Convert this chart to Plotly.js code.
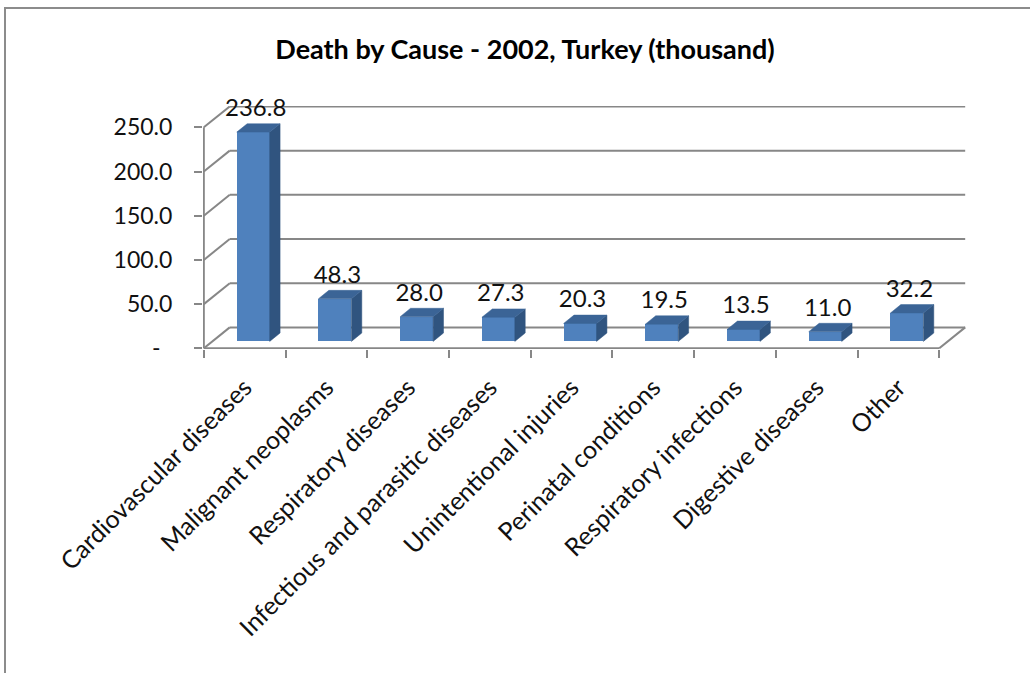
<!DOCTYPE html>
<html>
<head>
<meta charset="utf-8">
<script src="https://cdn.plot.ly/plotly-3.0.1.min.js"></script>
<style>html,body{margin:0;padding:0;background:#fff;}#chart{width:1030px;height:673px;}</style>
</head>
<body>
<div id="chart"></div>
<script>
// ---- data ----
const categories = ["Cardiovascular diseases", "Malignant neoplasms", "Respiratory diseases",
  "Infectious and parasitic diseases", "Unintentional injuries", "Perinatal conditions",
  "Respiratory infections", "Digestive diseases", "Other"];
const values = [236.8, 48.3, 28.0, 27.3, 20.3, 19.5, 13.5, 11.0, 32.2];
const yTickVals = [0, 50, 100, 150, 200, 250];
const yTickText = ["-\u00a0\u00a0", "50.0", "100.0", "150.0", "200.0", "250.0"];
const titleText = "Death by Cause - 2002, Turkey (thousand)";

// ---- pseudo-3D geometry (in axis units) ----
const DX = 0.3175, DY = 23.65;   // full depth offset of the back wall
const F0 = 0.33, F1 = 0.73;      // bar front / back depth fractions
const BW = 0.403;                // bar width
const idx = categories.map((c, i) => i);
const base = F0 * DY;
const sx = F0 * DX;
const dDX = (F1 - F0) * DX, dDY = (F1 - F0) * DY;

const topX = [], topY = [], sideX = [], sideY = [];
idx.forEach(i => {
  const xl = i - BW / 2 + sx, xr = i + BW / 2 + sx;
  const t = base + values[i];
  topX.push(xl, xr, xr + dDX, xl + dDX, xl, null);
  topY.push(t, t, t + dDY, t + dDY, t, null);
  sideX.push(xr, xr, xr + dDX, xr + dDX, xr, null);
  sideY.push(base, t, t + dDY, base + dDY, base, null);
});

const FONT = 'Lato, sans-serif';
const traces = [
  { type: 'bar', x: idx, y: values, base: idx.map(() => base), width: BW, offset: -BW / 2 + sx,
    marker: { color: '#4F81BD', line: { width: 0 } }, hoverinfo: 'skip', showlegend: false },
  { type: 'scatter', mode: 'lines', x: sideX, y: sideY, fill: 'toself', fillcolor: '#30547F',
    line: { width: 0.5, color: '#30547F' }, hoverinfo: 'skip', showlegend: false },
  { type: 'scatter', mode: 'lines', x: topX, y: topY, fill: 'toself', fillcolor: '#3B6496',
    line: { width: 0.5, color: '#3B6496' }, hoverinfo: 'skip', showlegend: false },
  { type: 'scatter', mode: 'text', x: idx.map(i => i + sx + 0.03), y: values.map(v => base + v + dDY + 2),
    text: values.map(v => v.toFixed(1)), textposition: 'top center', cliponaxis: false,
    textfont: { family: FONT, size: 24, color: '#111' }, hoverinfo: 'skip', showlegend: false }
];

// ---- frame lines ----
const gridColor = '#878787';
const shapes = [];
function ln(x0, y0, x1, y1, w) {
  shapes.push({ type: 'line', xref: 'x', yref: 'y', x0, y0, x1, y1, layer: 'below',
    line: { color: gridColor, width: w || 2 } });
}
const xL = -0.5, xR = categories.length - 0.5;
yTickVals.forEach(v => {
  ln(xL + DX, v + DY, xR + DX, v + DY);   // back wall gridline
  ln(xL, v, xL + DX, v + DY);             // side wall diagonal
});
ln(xL, 0, xR, 0);               // front floor edge
ln(xR, 0, xR + DX, DY);         // right floor edge
ln(xL, 0, xL, yTickVals[yTickVals.length - 1]); // front vertical axis

const L = 203, R = 64, T = 106, B = 324, W = 1030, H = 673;
const pw = W - L - R, ph = H - T - B;
// outer chart frame (left and top edges visible)
shapes.push({ type: 'rect', xref: 'paper', yref: 'paper',
  x0: (5 - L) / pw, x1: (1100 - L) / pw, y0: (H - B - 720) / ph, y1: (H - B - 8) / ph,
  line: { color: '#8c8c8c', width: 2 }, fillcolor: 'rgba(0,0,0,0)', layer: 'below' });

const layout = {
  width: W, height: H,
  margin: { l: L, r: R, t: T, b: B },
  paper_bgcolor: '#fff', plot_bgcolor: 'rgba(0,0,0,0)',
  font: { family: FONT, color: '#111' },
  title: { text: '<b>' + titleText + '</b>', font: { family: FONT, size: 27, color: '#000' },
    x: 525 / W, xanchor: 'center', y: 1 - 50 / H, yanchor: 'middle', yref: 'container' },
  xaxis: { range: [-0.51, xR + DX + 0.01], tickmode: 'array', tickvals: idx, ticktext: categories,
    tickangle: -45, ticks: '', showgrid: false, zeroline: false, showline: false, ticklabelstandoff: 18,
    tickfont: { family: FONT, size: 25, color: '#111' },
    minor: { tick0: -0.5, dtick: 1, ticks: 'outside', ticklen: 8, tickwidth: 2, tickcolor: gridColor, showgrid: false },
    fixedrange: true },
  yaxis: { range: [-0.8, 250 + DY + 0.5], tickmode: 'array', tickvals: yTickVals, ticktext: yTickText,
    ticks: 'outside', ticklen: 8, tickwidth: 2, tickcolor: gridColor, ticklabelstandoff: 17,
    showgrid: false, zeroline: false, showline: false,
    tickfont: { family: FONT, size: 23, color: '#111' }, fixedrange: true },
  shapes: shapes,
  showlegend: false,
  bargap: 0
};

Plotly.newPlot('chart', traces, layout, { displayModeBar: false, staticPlot: true });
</script>
</body>
</html>
